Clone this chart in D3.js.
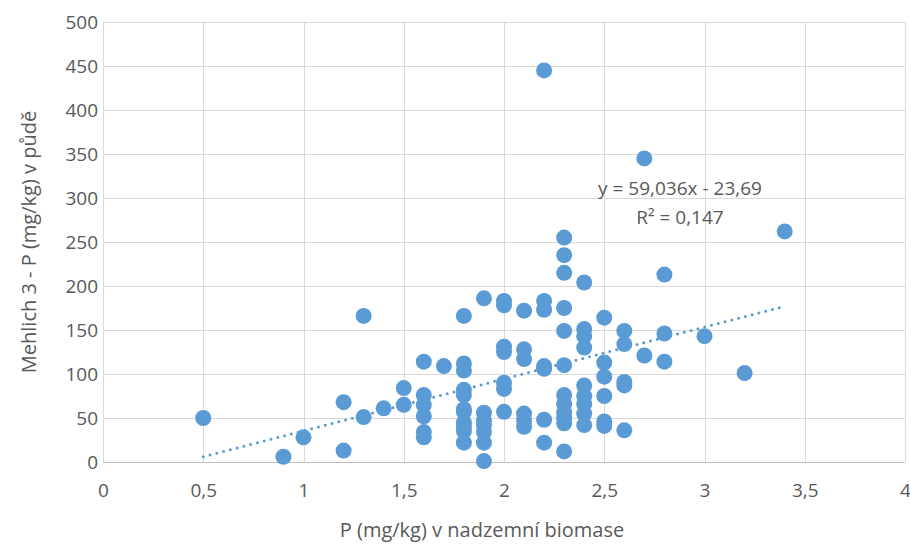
<!DOCTYPE html>
<html>
<head>
<meta charset="utf-8">
<script src="https://cdn.jsdelivr.net/npm/d3@7"></script>
<style>
  body { margin: 0; background: #fff; }
  svg { display: block; }
</style>
</head>
<body>
<svg id="chart" width="910" height="544"></svg>
<script>
// Data: x = P in above-ground biomass, y = Mehlich 3 P in soil
const xValues = [
  0.5, 0.9, 1.0,
  1.2, 1.2,
  1.3, 1.3,
  1.4,
  1.5, 1.5,
  1.6, 1.6, 1.6, 1.6, 1.6, 1.6,
  1.7,
  1.8, 1.8, 1.8, 1.8, 1.8, 1.8, 1.8, 1.8, 1.8, 1.8, 1.8,
  1.9, 1.9, 1.9, 1.9, 1.9, 1.9, 1.9,
  2.0, 2.0, 2.0, 2.0, 2.0, 2.0, 2.0,
  2.1, 2.1, 2.1, 2.1, 2.1, 2.1,
  2.2, 2.2, 2.2, 2.2, 2.2, 2.2, 2.2,
  2.3, 2.3, 2.3, 2.3, 2.3, 2.3, 2.3, 2.3, 2.3, 2.3, 2.3, 2.3,
  2.4, 2.4, 2.4, 2.4, 2.4, 2.4, 2.4, 2.4, 2.4,
  2.5, 2.5, 2.5, 2.5, 2.5, 2.5,
  2.6, 2.6, 2.6, 2.6, 2.6,
  2.7, 2.7,
  2.8, 2.8, 2.8,
  3.0, 3.2, 3.4
];
const yValues = [
  50, 6, 28,
  68, 13,
  166, 51,
  61,
  84, 65,
  114, 76, 65, 52, 34, 28,
  109,
  166, 112, 104, 82, 76, 60, 57, 45, 40, 35, 22,
  186, 56, 47, 42, 34, 22, 1,
  183, 178, 131, 125, 90, 83, 57,
  172, 128, 117, 55, 47, 40,
  445, 183, 173, 109, 106, 48, 22,
  255, 235, 215, 175, 149, 110, 76, 66, 56, 50, 44, 12,
  204, 151, 143, 130, 87, 75, 66, 55, 42,
  164, 113, 97, 75, 46, 41,
  149, 134, 91, 87, 36,
  345, 121,
  213, 146, 114,
  143, 101, 262
];
const trendSlope = 59.036;
const trendIntercept = -23.69;
const trendLabel = ["y = 59,036x - 23,69", "R\u00B2 = 0,147"];
const xTicks = [0, 0.5, 1, 1.5, 2, 2.5, 3, 3.5, 4];
const yTicks = [0, 50, 100, 150, 200, 250, 300, 350, 400, 450, 500];
const xTitle = "P (mg/kg) v nadzemní biomase";
const yTitle = "Mehlich 3 - P (mg/kg) v půdě";

const points = xValues.map((x, i) => ({ x, y: yValues[i] }));

const W = 910, H = 544;
const margin = { left: 103, right: 5, top: 22, bottom: 82 };
const svg = d3.select("#chart");
const font = "'Open Sans', 'Liberation Sans', sans-serif";
const textColor = "#595959";
const color = "#5b9bd5";

const x = d3.scaleLinear().domain([0, 4]).range([margin.left, W - margin.right]);
const y = d3.scaleLinear().domain([0, 500]).range([H - margin.bottom, margin.top]);

// gridlines
svg.append("g").selectAll("line.h").data(yTicks.filter(d => d > 0)).join("line")
  .attr("x1", x(0)).attr("x2", x(4))
  .attr("y1", d => Math.round(y(d)) + 0.5).attr("y2", d => Math.round(y(d)) + 0.5)
  .attr("stroke", "#d9d9d9").attr("stroke-width", 1);
svg.append("g").selectAll("line.v").data(xTicks).join("line")
  .attr("x1", d => Math.round(x(d)) + 0.5).attr("x2", d => Math.round(x(d)) + 0.5)
  .attr("y1", y(500)).attr("y2", y(0))
  .attr("stroke", "#d9d9d9").attr("stroke-width", 1);

// bottom axis line
svg.append("line")
  .attr("x1", x(0)).attr("x2", x(4))
  .attr("y1", Math.round(y(0)) + 0.5).attr("y2", Math.round(y(0)) + 0.5)
  .attr("stroke", "#bfbfbf").attr("stroke-width", 1);

// axes tick labels via d3 axes
const fmt = d => String(d).replace(".", ",");
const xAxis = svg.append("g")
  .attr("transform", `translate(0,${y(0)})`)
  .call(d3.axisBottom(x).tickValues(xTicks).tickFormat(fmt).tickSize(0).tickPadding(22));
xAxis.select(".domain").remove();
xAxis.selectAll("text").attr("font-family", font).attr("font-size", 19).attr("fill", textColor);

const yAxis = svg.append("g")
  .attr("transform", `translate(${x(0)},0)`)
  .call(d3.axisLeft(y).tickValues(yTicks).tickFormat(fmt).tickSize(0).tickPadding(5));
yAxis.select(".domain").remove();
yAxis.selectAll("text").attr("font-family", font).attr("font-size", 19).attr("fill", textColor);

// trendline
const tx0 = d3.min(xValues), tx1 = d3.max(xValues);
svg.append("line")
  .attr("x1", x(tx0)).attr("y1", y(trendSlope * tx0 + trendIntercept))
  .attr("x2", x(tx1)).attr("y2", y(trendSlope * tx1 + trendIntercept))
  .attr("stroke", color).attr("stroke-width", 3)
  .attr("stroke-linecap", "round").attr("stroke-dasharray", "0 7");

// points
svg.append("g").selectAll("circle").data(points).join("circle")
  .attr("cx", d => x(d.x)).attr("cy", d => y(d.y)).attr("r", 8)
  .attr("fill", color);

// trend label
const lab = svg.append("text").attr("font-family", font).attr("font-size", 19)
  .attr("fill", textColor).attr("text-anchor", "middle");
lab.append("tspan").attr("x", 680).attr("y", 195).text(trendLabel[0]);
lab.append("tspan").attr("x", 680).attr("y", 224).text(trendLabel[1]);

// axis titles
svg.append("text").attr("x", 482).attr("y", 537)
  .attr("text-anchor", "middle").attr("font-family", font).attr("font-size", 20)
  .attr("fill", textColor).text(xTitle);
svg.append("text")
  .attr("transform", `translate(36,${(margin.top + H - margin.bottom) / 2}) rotate(-90)`)
  .attr("text-anchor", "middle").attr("font-family", font).attr("font-size", 20)
  .attr("fill", textColor).text(yTitle);
</script>
</body>
</html>
